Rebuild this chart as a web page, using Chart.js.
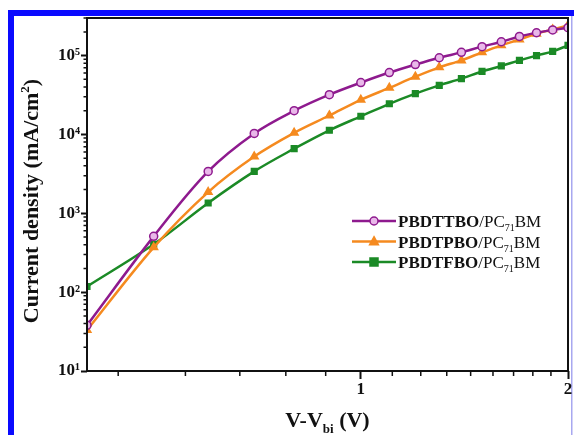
<!DOCTYPE html>
<html>
<head>
<meta charset="utf-8">
<script src="https://cdn.jsdelivr.net/npm/chart.js@4"></script>
<style>
  html, body { margin: 0; padding: 0; background: #fff; }
  #wrap { width: 574px; height: 435px; }
</style>
</head>
<body>
<div id="wrap"><canvas id="myChart" width="574" height="435"></canvas></div>
<script>
// V - Vbi (V)
const voltage = [0.4, 0.5, 0.6, 0.7, 0.8, 0.9, 1.0, 1.1, 1.2, 1.3, 1.4, 1.5, 1.6, 1.7, 1.8, 1.9, 2.0];

// current density (mA/cm2)
const pbdttbo = [38, 510, 3400, 10300, 20000, 32000, 45500, 61000, 77000, 94000, 110000, 130000, 150000, 175000, 195000, 212000, 226000];
const pbdtpbo = [33, 370, 1860, 5250, 10500, 17400, 27500, 39000, 54000, 71000, 87000, 110000, 135000, 160000, 190000, 215000, 242000];
const pbdtfbo = [118, 405, 1350, 3400, 6600, 11300, 17000, 24500, 33000, 42000, 51000, 63000, 74000, 87000, 100000, 113000, 135000];

const seriesNames = ["PBDTTBO", "PBDTPBO", "PBDTFBO"];

// tick values
const xMajorTicks = [1, 2];
const xMinorTicks = [0.444, 0.556, 0.667, 0.778, 0.889, 1.111, 1.222, 1.333, 1.444, 1.556, 1.667, 1.778, 1.889];
const yMajorTicks = [10, 100, 1000, 10000, 100000];
const yMinorSteps = [2, 3, 4, 5, 6, 7, 8, 9];

const SERIF = '"Liberation Serif", "Times New Roman", serif';
const SUP = { 1: "\u00b9", 2: "\u00b2", 3: "\u00b3", 4: "\u2074", 5: "\u2075" };

function pairs(ys) {
  return voltage.map((v, i) => ({ x: v, y: ys[i] }));
}

// draws pieces of text one after another, each with its own font / offset
function drawRuns(ctx, x, y, runs) {
  let cx = x;
  runs.forEach((r) => {
    ctx.font = r.font;
    ctx.fillText(r.text, cx, y + (r.dy || 0));
    cx += ctx.measureText(r.text).width;
  });
  return cx - x;
}
function runsWidth(ctx, runs) {
  let w = 0;
  runs.forEach((r) => { ctx.font = r.font; w += ctx.measureText(r.text).width; });
  return w;
}

const decorPlugin = {
  id: "decor",
  beforeDraw(chart) {
    const ctx = chart.ctx;
    ctx.save();
    ctx.fillStyle = "#fff";
    ctx.fillRect(0, 0, chart.width, chart.height);
    // blue frame of the figure
    ctx.fillStyle = "#0a0aff";
    ctx.fillRect(8, 10, 566, 6);
    ctx.fillRect(8, 10, 6, 425);
    ctx.fillStyle = "#a8a8f0";
    ctx.fillRect(571, 16, 1.5, 419);
    ctx.restore();
  },
  afterDraw(chart) {
    const ctx = chart.ctx;
    const a = chart.chartArea;
    const xs = chart.scales.x, ys = chart.scales.y;
    ctx.save();
    ctx.strokeStyle = "#111";
    ctx.lineWidth = 2;
    ctx.strokeRect(a.left, a.top, a.right - a.left, a.bottom - a.top);

    // minor ticks
    ctx.lineWidth = 1.5;
    ctx.beginPath();
    xMinorTicks.forEach((v) => {
      const px = xs.getPixelForValue(v);
      ctx.moveTo(px, a.bottom);
      ctx.lineTo(px, a.bottom + 5);
    });
    yMajorTicks.forEach((d) => {
      yMinorSteps.forEach((m) => {
        const v = d * m;
        if (v > ys.max) return;
        const py = ys.getPixelForValue(v);
        ctx.moveTo(a.left, py);
        ctx.lineTo(a.left - 3.5, py);
      });
    });
    ctx.stroke();

    // axis titles
    ctx.fillStyle = "#111";
    ctx.textBaseline = "alphabetic";
    const xt = [
      { text: "V-V", font: "bold 22px " + SERIF },
      { text: "bi", font: "bold 13px " + SERIF, dy: 6 },
      { text: " (V)", font: "bold 22px " + SERIF },
    ];
    const xw = runsWidth(ctx, xt);
    drawRuns(ctx, (a.left + a.right) / 2 - xw / 2, 427, xt);

    const yt = [
      { text: "Current density (mA/cm", font: "bold 22px " + SERIF },
      { text: "2", font: "bold 13px " + SERIF, dy: -9 },
      { text: ")", font: "bold 22px " + SERIF },
    ];
    const yw = runsWidth(ctx, yt);
    ctx.save();
    ctx.translate(38, 201);
    ctx.rotate(-Math.PI / 2);
    drawRuns(ctx, -yw / 2, 0, yt);
    ctx.restore();

    // legend
    chart.data.datasets.forEach((ds, i) => {
      const cy = 221 + i * 20.5;
      ctx.strokeStyle = ds.borderColor;
      ctx.lineWidth = 2.5;
      ctx.beginPath();
      ctx.moveTo(352, cy);
      ctx.lineTo(396, cy);
      ctx.stroke();
      const mx = 374, r = 4;
      ctx.fillStyle = ds.pointBackgroundColor;
      ctx.lineWidth = 1.5;
      ctx.beginPath();
      if (ds.pointStyle === "circle") {
        ctx.arc(mx, cy, r, 0, Math.PI * 2);
      } else if (ds.pointStyle === "triangle") {
        ctx.moveTo(mx, cy - r * 1.2);
        ctx.lineTo(mx + r * 1.1, cy + r * 0.8);
        ctx.lineTo(mx - r * 1.1, cy + r * 0.8);
        ctx.closePath();
      } else {
        ctx.rect(mx - r, cy - r, 2 * r, 2 * r);
      }
      ctx.fill();
      ctx.stroke();
      ctx.fillStyle = "#111";
      drawRuns(ctx, 398, cy + 6, [
        { text: seriesNames[i], font: "bold 17px " + SERIF },
        { text: "/PC", font: "17px " + SERIF },
        { text: "71", font: "10px " + SERIF, dy: 4 },
        { text: "BM", font: "17px " + SERIF },
      ]);
    });
    ctx.restore();
  },
};

const common = {
  borderWidth: 2.5,
  pointRadius: 4,
  pointBorderWidth: 1.5,
  tension: 0.35,
  fill: false,
};

const data = {
  datasets: [
    {
      ...common,
      label: seriesNames[0] + "/PC\u2087\u2081BM",
      data: pairs(pbdttbo),
      borderColor: "#8e1a8e",
      pointBackgroundColor: "#e9b8e9",
      pointBorderColor: "#8e1a8e",
      pointStyle: "circle",
    },
    {
      ...common,
      label: seriesNames[1] + "/PC\u2087\u2081BM",
      data: pairs(pbdtpbo),
      borderColor: "#f58a1f",
      pointBackgroundColor: "#f58a1f",
      pointBorderColor: "#f58a1f",
      pointStyle: "triangle",
      pointRadius: 4.5,
    },
    {
      ...common,
      label: seriesNames[2] + "/PC\u2087\u2081BM",
      data: pairs(pbdtfbo),
      borderColor: "#1b8a26",
      pointBackgroundColor: "#1b8a26",
      pointBorderColor: "#1b8a26",
      pointStyle: "rect",
    },
  ],
};

const config = {
  type: "line",
  data: data,
  plugins: [decorPlugin],
  options: {
    responsive: false,
    animation: false,
    devicePixelRatio: 1,
    layout: { padding: { left: 0, top: 18, right: 6, bottom: 0 } },
    plugins: { legend: { display: false }, tooltip: { enabled: false } },
    scales: {
      x: {
        type: "logarithmic",
        position: "bottom",
        min: 0.4,
        max: 2,
        afterBuildTicks: (s) => { s.ticks = xMajorTicks.map((v) => ({ value: v })); },
        afterFit: (s) => { s.height = 64; s.paddingLeft = 0; s.paddingRight = 0; },
        border: { display: false },
        grid: { drawOnChartArea: false, tickLength: 8, tickWidth: 2, tickColor: "#111" },
        ticks: {
          autoSkip: false,
          maxRotation: 0,
          padding: 0,
          color: "#111",
          font: { family: SERIF, size: 17, weight: "bold" },
          callback: (v) => String(v),
        },
      },
      y: {
        type: "logarithmic",
        min: 10,
        max: 300000,
        afterBuildTicks: (s) => { s.ticks = yMajorTicks.map((v) => ({ value: v })); },
        afterFit: (s) => { s.width = 87; s.paddingTop = 0; s.paddingBottom = 0; },
        border: { display: false },
        grid: { drawOnChartArea: false, tickLength: 6, tickWidth: 2, tickColor: "#111" },
        ticks: {
          autoSkip: false,
          padding: 1,
          color: "#111",
          font: { family: SERIF, size: 17, weight: "bold" },
          callback: (v) => "10" + SUP[Math.round(Math.log10(v))],
        },
      },
    },
  },
};

// render init block
const myChart = new Chart(document.getElementById("myChart"), config);
</script>
</body>
</html>
